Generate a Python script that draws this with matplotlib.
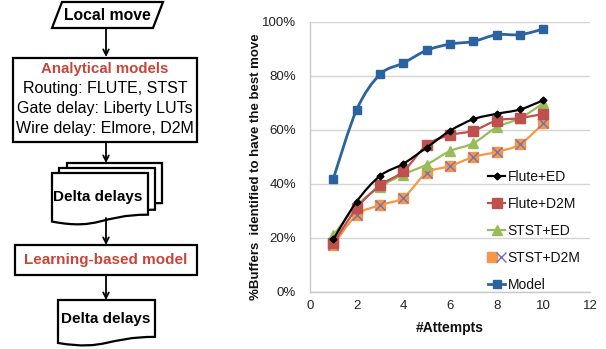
import matplotlib
matplotlib.use("Agg")
import matplotlib.pyplot as plt
from matplotlib.path import Path
from matplotlib.patches import PathPatch, Rectangle, Polygon
from matplotlib.lines import Line2D
from matplotlib.legend_handler import HandlerTuple
import numpy as np

plt.rcParams['font.family'] = ['Liberation Sans', 'DejaVu Sans']

# ---------------- data ----------------
attempts = [1, 2, 3, 4, 5, 6, 7, 8, 9, 10]
flute_ed = [19.5, 33.5, 43.0, 47.5, 53.5, 59.7, 64.0, 66.0, 67.6, 71.0]
flute_d2m = [18.0, 31.0, 39.5, 44.7, 54.4, 58.1, 59.7, 63.5, 64.4, 66.0]
stst_ed = [21.0, 32.0, 38.9, 43.5, 47.2, 52.2, 55.1, 61.0, 64.4, 69.9]
stst_d2m = [17.5, 28.5, 32.2, 35.0, 44.1, 46.6, 50.0, 51.9, 54.7, 62.5]
model = [42.0, 67.5, 80.6, 84.8, 89.5, 91.8, 92.8, 95.3, 95.3, 97.4]

series_labels = ['Flute+ED', 'Flute+D2M', 'STST+ED', 'STST+D2M', 'Model']
x_ticks = [0, 2, 4, 6, 8, 10, 12]
y_ticks = [0, 20, 40, 60, 80, 100]
y_tick_labels = ['0%', '20%', '40%', '60%', '80%', '100%']

flow_top = 'Local move'
flow_analytical = 'Analytical models'
flow_lines = ['Routing: FLUTE, STST', 'Gate delay: Liberty LUTs', 'Wire delay: Elmore, D2M']
flow_delta = 'Delta delays'
flow_learning = 'Learning-based model'

W, H = 606, 349
fig = plt.figure(figsize=(W / 100, H / 100), dpi=100)
fig.patch.set_facecolor('white')

# ---------------- flowchart overlay ----------------
fa = fig.add_axes([0, 0, 1, 1])
fa.set_xlim(0, W)
fa.set_ylim(H, 0)
fa.axis('off')
RED = '#c8453a'
LW = 1.6

# parallelogram
fa.add_patch(Polygon([(62, 2), (163, 2), (153, 28), (52, 28)], closed=True,
                     fill=True, facecolor='white', edgecolor='black', lw=LW))
fa.text(107, 15, flow_top, ha='center', va='center', fontsize=11.3, fontweight='bold')


def arrow(x, y0, y1):
    fa.annotate('', xy=(x, y1), xytext=(x, y0),
                arrowprops=dict(arrowstyle='->', lw=1.3, color='black',
                                shrinkA=0, shrinkB=0, mutation_scale=10))


arrow(106, 28, 57)

# Analytical models box
fa.add_patch(Rectangle((13, 58), 184, 84, facecolor='white', edgecolor='black', lw=LW))
fa.text(105, 69, flow_analytical, ha='center', va='center', fontsize=10.8,
        fontweight='bold', color=RED)
for i, t in enumerate(flow_lines):
    fa.text(105, 89 + 20 * i, t, ha='center', va='center', fontsize=11.5)

arrow(106, 142, 163)


def document(x0, x1, top, h):
    w = x1 - x0
    verts = [(x0, top), (x1, top), (x1, top + h * 17322 / 21600),
             (x0 + w / 2, top + h * 17322 / 21600),
             (x0 + w / 2, top + h * 23922 / 21600),
             (x0, top + h * 20172 / 21600), (x0, top)]
    codes = [Path.MOVETO, Path.LINETO, Path.LINETO, Path.CURVE4, Path.CURVE4,
             Path.CURVE4, Path.CLOSEPOLY]
    fa.add_patch(PathPatch(Path(verts, codes), facecolor='white', edgecolor='black',
                           lw=LW))


document(67, 162, 163, 50)
document(59, 155, 168, 52)
document(52, 148, 173, 52)
fa.text(98, 197, flow_delta, ha='center', va='center', fontsize=11, fontweight='bold')

arrow(106, 218, 245)

fa.add_patch(Rectangle((15, 245), 182, 30, facecolor='white', edgecolor='black', lw=LW))
fa.text(106, 260, flow_learning, ha='center', va='center', fontsize=11,
        fontweight='bold', color=RED)

arrow(106, 275, 300)

document(58, 155, 300, 46)
fa.text(106, 319, flow_delta, ha='center', va='center', fontsize=11, fontweight='bold')

# ---------------- chart ----------------
ax = fig.add_axes([310 / W, 1 - 292 / H, 280 / W, 270 / H])
ax.set_xlim(0, 12)
ax.set_ylim(0, 100)
ax.set_xticks(x_ticks)
ax.set_yticks(y_ticks)
ax.set_yticklabels(y_tick_labels)
ax.tick_params(length=0, labelsize=9.5, colors='#222222', pad=6)
ax.tick_params(axis='y', pad=10)
ax.yaxis.grid(True, color='#d4d4d4', lw=1)
ax.set_axisbelow(True)
for s in ['top', 'right']:
    ax.spines[s].set_visible(False)
for s in ['left', 'bottom']:
    ax.spines[s].set_color('#c8c8c8')
    ax.spines[s].set_linewidth(1)
ax.patch.set_alpha(0)


def smooth(xs, ys, color, lw, z):
    P = np.column_stack([xs, ys]).astype(float)
    n = len(P)
    verts = [tuple(P[0])]
    codes = [Path.MOVETO]
    for i in range(n - 1):
        p0 = P[i - 1] if i > 0 else P[i]
        p1 = P[i]
        p2 = P[i + 1]
        p3 = P[i + 2] if i + 2 < n else P[i + 1]
        c1 = p1 + (p2 - p0) / 6
        c2 = p2 - (p3 - p1) / 6
        verts += [tuple(c1), tuple(c2), tuple(p2)]
        codes += [Path.CURVE4] * 3
    ax.add_patch(PathPatch(Path(verts, codes), fill=False, edgecolor=color, lw=lw,
                           transform=ax.transData, zorder=z, capstyle='round',
                           joinstyle='round'))


C_BLK = '#000000'
C_RED = '#c0504d'
C_GRN = '#9bbb59'
C_ORG = '#f79646'
C_X = '#6f74b8'
C_BLU = '#2b62a0'

smooth(attempts, stst_d2m, C_ORG, 1.6, 3)
ax.plot(attempts, stst_d2m, ls='none', marker='s', ms=7, mfc=C_ORG, mec=C_ORG, zorder=4)
ax.plot(attempts, stst_d2m, ls='none', marker='x', ms=7, mec=C_X, mew=1.0, zorder=4)
smooth(attempts, stst_ed, C_GRN, 1.6, 5)
ax.plot(attempts, stst_ed, ls='none', marker='^', ms=7, color=C_GRN, zorder=6)
smooth(attempts, flute_d2m, C_RED, 1.6, 7)
ax.plot(attempts, flute_d2m, ls='none', marker='s', ms=7, color=C_RED, zorder=8)
smooth(attempts, flute_ed, C_BLK, 1.6, 9)
ax.plot(attempts, flute_ed, ls='none', marker='D', ms=3.5, color=C_BLK, zorder=10)
smooth(attempts, model, C_BLU, 2.0, 11)
ax.plot(attempts, model, ls='none', marker='s', ms=6, color=C_BLU, zorder=12)

h_fe = Line2D([], [], color=C_BLK, lw=1.6, marker='D', ms=3.5)
h_fd = Line2D([], [], color=C_RED, lw=1.6, marker='s', ms=7)
h_se = Line2D([], [], color=C_GRN, lw=1.6, marker='^', ms=7)
h_sd1 = Line2D([], [], color=C_ORG, lw=1.6, marker='s', ms=7)
h_sd2 = Line2D([], [], ls='none', marker='x', ms=7, mec=C_X, mew=1.0)
h_m = Line2D([], [], color=C_BLU, lw=2.0, marker='s', ms=6)

leg = ax.legend([h_fe, h_fd, h_se, (h_sd1, h_sd2), h_m], series_labels,
                handler_map={tuple: HandlerTuple(ndivide=None, pad=0)},
                loc='upper left', bbox_to_anchor=((488 - 310) / 280, (292 - 170) / 270),
                frameon=False, fontsize=10, handlelength=1.25, handletextpad=0.15,
                labelspacing=0.93, borderpad=0, borderaxespad=0)
for t in leg.get_texts():
    t.set_color('#111111')

fig.text(450 / W, 1 - 328 / H, '#Attempts', ha='center', va='center',
         fontsize=10, fontweight='bold', color='#111111')
fig.text(256 / W, 1 - 167 / H, '%Buffers  identified to have the best move',
         ha='center', va='center', rotation=90, fontsize=9.5, fontweight='bold',
         color='#111111')

fig.savefig('out.png', dpi=100, facecolor='white')
